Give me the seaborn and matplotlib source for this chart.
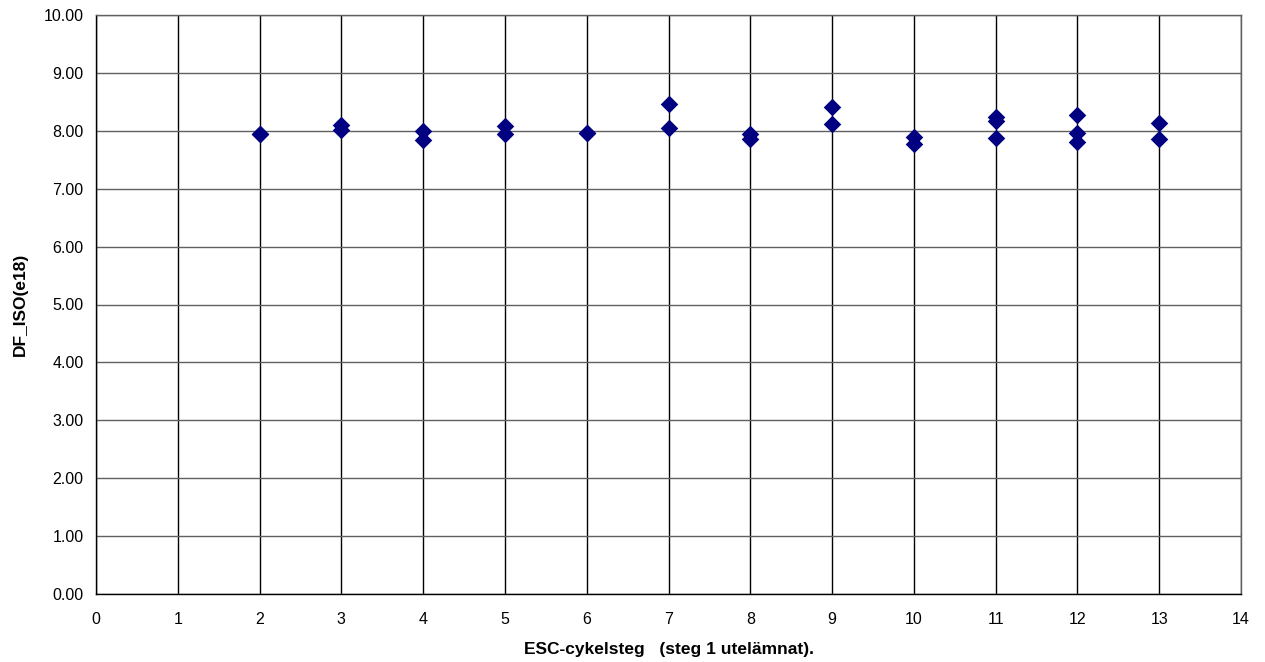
import matplotlib
matplotlib.use("Agg")
import matplotlib.pyplot as plt
import seaborn as sns
import pandas as pd

# ESC cycle step and measured DF_ISO values (e18)
steps = [2, 2, 3, 3, 4, 4, 5, 5, 6, 6, 7, 7, 8, 8, 9, 9, 10, 10, 11, 11, 11, 12, 12, 12, 13, 13]
df_iso = [7.94, 7.95, 8.10, 8.01, 8.00, 7.84, 8.08, 7.94, 7.97, 7.96, 8.46, 8.04,
          7.94, 7.85, 8.41, 8.12, 7.90, 7.78, 8.24, 8.17, 7.88, 8.27, 7.96, 7.80,
          8.13, 7.86]

x_ticks = list(range(0, 15))
y_ticks = [i for i in range(0, 11)]

sns.set_style("white")
plt.rcParams["font.family"] = ["Liberation Sans", "DejaVu Sans"]
plt.rcParams["text.color"] = "black"
plt.rcParams["axes.labelcolor"] = "black"

fig = plt.figure(figsize=(12.65, 6.62), dpi=100)
ax = fig.add_axes([96 / 1265, 1 - 594 / 662, (1241 - 96) / 1265, (594 - 15) / 662])

data = pd.DataFrame({"steg": steps, "df": df_iso})
sns.scatterplot(data=data, x="steg", y="df", ax=ax, marker="D", s=80,
                color="#000080", edgecolor="#000080", linewidth=0, zorder=3)

ax.set_xlim(0, 14)
ax.set_ylim(0, 10)
ax.set_xticks(x_ticks)
ax.set_xticklabels([str(t) for t in x_ticks])
ax.set_yticks(y_ticks)
ax.set_yticklabels([f"{t:.2f}" for t in y_ticks])

# vertical grid black, horizontal grid gray
ax.xaxis.grid(True, color="black", linewidth=1.0)
ax.yaxis.grid(True, color="#606060", linewidth=1.0)
ax.set_axisbelow(True)

for side in ["left", "bottom"]:
    ax.spines[side].set_color("black")
    ax.spines[side].set_linewidth(1.0)
for side in ["top", "right"]:
    ax.spines[side].set_color("#606060")
    ax.spines[side].set_linewidth(1.0)

ax.tick_params(axis="both", which="major", direction="out", length=5, width=1,
               color="black", labelsize=11.5, labelcolor="black", pad=4)
ax.tick_params(axis="x", pad=8)

ax.set_xlabel("ESC-cykelsteg   (steg 1 utelämnat).", fontsize=12.5, fontweight="bold",
              color="black", labelpad=11)
ax.set_ylabel("DF_ISO(e18)", fontsize=12.5, fontweight="bold", color="black", labelpad=11)

fig.savefig("out.png", dpi=100, facecolor="white")
